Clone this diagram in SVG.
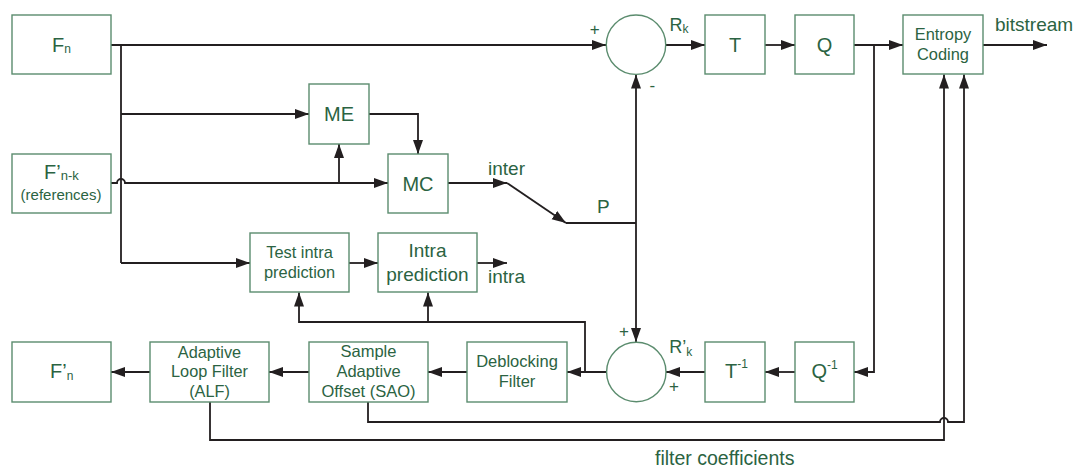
<svg xmlns="http://www.w3.org/2000/svg" width="1077" height="468" viewBox="0 0 1077 468">
<style>
.box{fill:#fff;stroke:#5b8c6e;stroke-width:1.4}
.t{font-family:"Liberation Sans",Arial,sans-serif;fill:#2b6342}
.c{text-anchor:middle}
.ln{fill:none;stroke:#231f20;stroke-width:1.8}
.a{marker-end:url(#ah)}
</style>
<defs>
<marker id="ah" markerUnits="userSpaceOnUse" markerWidth="15" markerHeight="11" refX="14" refY="5" orient="auto">
<path d="M0,0 L14,5 L0,10 z" fill="#231f20"/>
</marker>
</defs>
<rect width="1077" height="468" fill="#fff"/>

<g id="connectors">
<path class="ln a" d="M111,45 L606,45"/>
<path class="ln" d="M121,45 L121,263"/>
<path class="ln a" d="M121,263 L250,263"/>
<path class="ln a" d="M121,114 L309,114"/>
<path class="ln a" d="M369,114 L418,114 L418,154"/>
<path class="ln a" d="M111,183 L117,183 A4,4 0 0 1 125,183 L388,183"/>
<path class="ln a" d="M339,183 L339,144"/>
<path class="ln a" d="M448,183 L507,183"/>
<path class="ln a" d="M507,183 L566,223"/>
<path class="ln" d="M566,223 L636,223"/>
<path class="ln a" d="M636,223 L636,74.5"/>
<path class="ln a" d="M636,223 L636,342"/>
<path class="ln a" d="M349,263 L378,263"/>
<path class="ln a" d="M477,263 L507,263"/>
<path class="ln a" d="M666,45 L705,45"/>
<path class="ln a" d="M765,45 L795,45"/>
<path class="ln a" d="M854,45 L903,45"/>
<path class="ln a" d="M983,45 L1047,45"/>
<path class="ln a" d="M874,45 L874,372 L854,372"/>
<path class="ln a" d="M795,372 L765,372"/>
<path class="ln a" d="M705,372 L666,372"/>
<path class="ln a" d="M606,372 L567,372"/>
<path class="ln a" d="M585,372 L585,322 L299,322 L299,292.5"/>
<path class="ln a" d="M428,322 L428,292.5"/>
<path class="ln a" d="M467,372 L428,372"/>
<path class="ln a" d="M309,372 L269,372"/>
<path class="ln a" d="M150,372 L111,372"/>
<path class="ln a" d="M210,402 L210,440 L944,440 L944,74.5"/>
<path class="ln a" d="M368,402 L368,422 L940,422 A4,4 0 0 1 948,422 L964,422 L964,74.5"/>
</g>

<g id="Fn">
<rect class="box" x="12" y="15" width="99" height="59"/>
<text class="t" x="52" y="52" font-size="20">F<tspan font-size="12" dy="1">n</tspan></text>
</g>
<g id="Fnk">
<rect class="box" x="12" y="154" width="99" height="59"/>
<text class="t" x="44" y="178.5" font-size="20">F’<tspan font-size="13" dy="1.5">n-k</tspan></text>
<text class="t c" x="61" y="200" font-size="15">(references)</text>
</g>
<g id="ME">
<rect class="box" x="309" y="84" width="60" height="60"/>
<text class="t c" x="339" y="121" font-size="20">ME</text>
</g>
<g id="MC">
<rect class="box" x="388" y="154" width="60" height="59"/>
<text class="t c" x="418" y="190.5" font-size="20">MC</text>
</g>
<g id="sum1">
<circle cx="636" cy="44.7" r="29.7" fill="#fff" stroke="#5b8c6e" stroke-width="1.4"/>
<text class="t c" x="594.7" y="35" font-size="17">+</text>
<text class="t c" x="652.3" y="91" font-size="17">-</text>
<text class="t" x="669.5" y="30.7" font-size="18">R<tspan font-size="12" dy="2.5">k</tspan></text>
</g>
<g id="T">
<rect class="box" x="705" y="15" width="60" height="59"/>
<text class="t c" x="735" y="51.7" font-size="20">T</text>
</g>
<g id="Q">
<rect class="box" x="795" y="15" width="59" height="59"/>
<text class="t c" x="824.5" y="52" font-size="20">Q</text>
</g>
<g id="entropy">
<rect class="box" x="903" y="15" width="80" height="59"/>
<text class="t c" x="943" y="39.5" font-size="16.4">Entropy</text>
<text class="t c" x="943" y="59.8" font-size="16.4">Coding</text>
</g>
<text id="bitstream" class="t" x="995" y="31" font-size="19">bitstream</text>
<text id="inter" class="t" x="488" y="175" font-size="19">inter</text>
<text id="P" class="t" x="597" y="213" font-size="19">P</text>
<text id="intra" class="t" x="488" y="283" font-size="19">intra</text>
<g id="testintra">
<rect class="box" x="250" y="233" width="99" height="59"/>
<text class="t c" x="299.5" y="257.5" font-size="16.4">Test intra</text>
<text class="t c" x="299.5" y="278.2" font-size="16.4">prediction</text>
</g>
<g id="intrapred">
<rect class="box" x="378" y="233" width="99" height="59"/>
<text class="t c" x="427.5" y="256.8" font-size="19">Intra</text>
<text class="t c" x="427.5" y="281" font-size="19">prediction</text>
</g>
<g id="Fpn">
<rect class="box" x="12" y="342" width="99" height="60"/>
<text class="t" x="50" y="378.3" font-size="20">F’<tspan font-size="12" dy="1.7">n</tspan></text>
</g>
<g id="ALF">
<rect class="box" x="150" y="342" width="119" height="60"/>
<text class="t c" x="209.5" y="357.8" font-size="16.3">Adaptive</text>
<text class="t c" x="209.5" y="377.3" font-size="16.3">Loop Filter</text>
<text class="t c" x="209.5" y="396.6" font-size="16.3">(ALF)</text>
</g>
<g id="SAO">
<rect class="box" x="309" y="342" width="119" height="60"/>
<text class="t c" x="368.5" y="357" font-size="16.5">Sample</text>
<text class="t c" x="368.5" y="376.8" font-size="16.5">Adaptive</text>
<text class="t c" x="368.5" y="396.6" font-size="16.5">Offset (SAO)</text>
</g>
<g id="deblocking">
<rect class="box" x="467" y="342" width="100" height="60"/>
<text class="t c" x="517" y="367.3" font-size="16.5">Deblocking</text>
<text class="t c" x="517" y="386.8" font-size="16.5">Filter</text>
</g>
<g id="sum2">
<circle cx="636.3" cy="372" r="29.7" fill="#fff" stroke="#5b8c6e" stroke-width="1.4"/>
<text class="t c" x="624" y="336.7" font-size="17">+</text>
<text class="t c" x="674" y="391.7" font-size="17">+</text>
<text class="t" x="669.3" y="352.7" font-size="18">R’<tspan font-size="12" dy="3.5">k</tspan></text>
</g>
<g id="Tinv">
<rect class="box" x="705" y="342" width="60" height="60"/>
<text class="t" x="725" y="377.7" font-size="20">T<tspan font-size="12" dy="-9.5">-1</tspan></text>
</g>
<g id="Qinv">
<rect class="box" x="795" y="342" width="59" height="60"/>
<text class="t" x="811.5" y="378" font-size="20">Q<tspan font-size="12" dy="-9.5">-1</tspan></text>
</g>
<text id="filtercoeff" class="t" x="655" y="465" font-size="19.5">filter coefficients</text>
</svg>
